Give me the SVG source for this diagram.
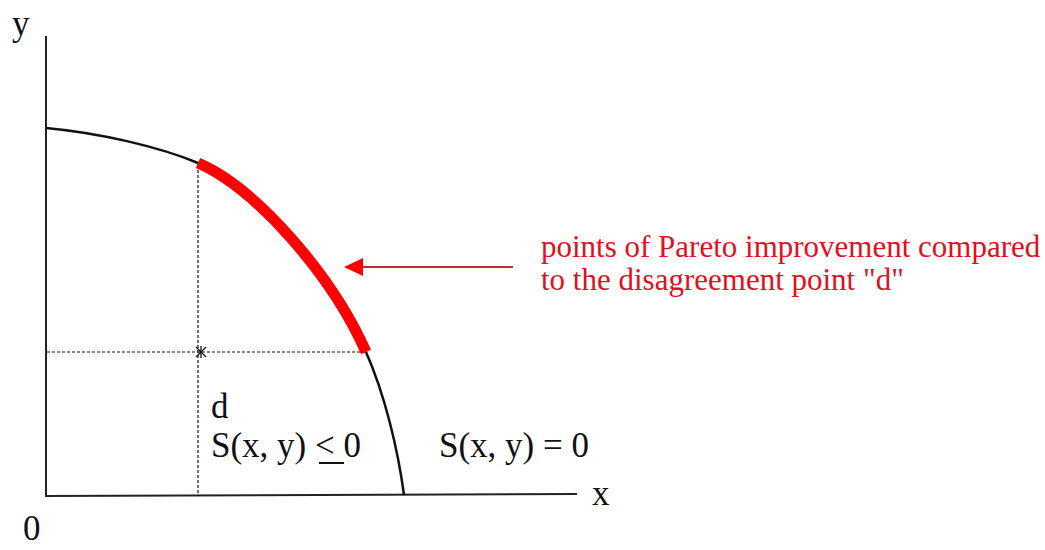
<svg xmlns="http://www.w3.org/2000/svg" width="1045" height="550" viewBox="0 0 1045 550">
<style>
.t{font-family:"Liberation Serif","Times New Roman",serif;fill:#111;font-size:35px}
.r{font-family:"Liberation Serif","Times New Roman",serif;fill:#e0101e;font-size:31px}
.ax{stroke:#222;stroke-width:2;fill:none}
.dash{stroke:#111;stroke-width:1.2;stroke-dasharray:3,2;fill:none}
</style>
<rect width="1045" height="550" fill="#fff"/>
<g id="axes">
<line class="ax" x1="46" y1="36" x2="46" y2="497"/>
<line class="ax" x1="45" y1="496" x2="577" y2="494"/>
<text class="t" x="12" y="35">y</text>
<text class="t" x="592" y="505">x</text>
<text class="t" x="23" y="540">0</text>
</g>
<g id="guides">
<line class="dash" x1="198" y1="165" x2="198" y2="496"/>
<line class="dash" x1="47" y1="352" x2="366" y2="352"/>
<g id="d-marker" stroke="#111" stroke-width="1.3">
<line x1="196" y1="347" x2="206" y2="357"/>
<line x1="196" y1="357" x2="206" y2="347"/>
<line x1="201" y1="346" x2="201" y2="358"/>
</g>
</g>
<g id="frontier">
<path d="M46,128 C100,133 160,147 198,163 C255,187 332,275 366,352 C385,395 398,450 404,495" stroke="#111" stroke-width="2.5" fill="none"/>
</g>
<g id="pareto-segment">
<path d="M198,163 C255,187 332,275 366,352" stroke="#f00" stroke-width="11" fill="none"/>
</g>
<g id="connectors">
<line x1="513" y1="267" x2="358" y2="267" stroke="#b83030" stroke-width="2"/>
<polygon points="344,267 363,258 363,276" fill="#f00"/>
</g>
<g id="labels">
<text class="t" x="211" y="418">d</text>
<text class="t" x="211" y="457">S(x, y) &lt; 0</text>
<line x1="319" y1="463" x2="344" y2="463" stroke="#111" stroke-width="2"/>
<text class="t" x="439" y="457">S(x, y) = 0</text>
<text class="r" x="541" y="257">points of Pareto improvement compared</text>
<text class="r" x="541" y="290">to the disagreement point "d"</text>
</g>
</svg>
